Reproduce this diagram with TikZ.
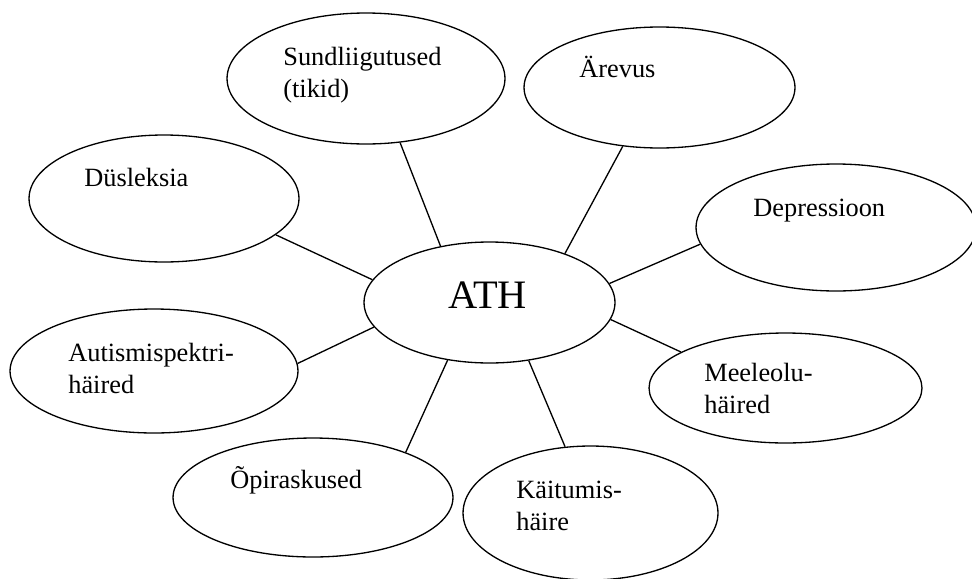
\documentclass[tikz,border=0pt]{standalone}
\usepackage{fontspec}
\setmainfont{Liberation Serif}
\usetikzlibrary{shapes.geometric,positioning}

\newcommand{\twoline}[2]{\begin{tabular}[t]{@{}l@{}}#1\\#2\end{tabular}}

\tikzset{
    bubble/.style 2 args={ellipse, draw, line width=0.75pt, inner sep=0pt,
        minimum width=#1, minimum height=#2},
    label text/.style={anchor=base west, inner sep=0pt,
        font=\fontsize{15}{18.5}\selectfont},
    spoke/.style={line width=0.75pt}
}

\begin{document}
\begin{tikzpicture}[x=0.02cm, y=-0.02cm]
        \path[fill=white, use as bounding box] (0,0) rectangle (972,578);
        % ellipses
        \node[bubble={5.02cm}{2.42cm}] (ath) at (489.5,302.5) {};
        \node[bubble={5.56cm}{2.62cm}] (sund) at (366,78.5) {};
        \node[bubble={5.42cm}{2.42cm}] (arev) at (659.5,87.5) {};
        \node[bubble={5.40cm}{2.54cm}] (dys) at (164,198.5) {};
        \node[bubble={5.60cm}{2.54cm}] (depr) at (836,227.5) {};
        \node[bubble={5.76cm}{2.48cm}] (aut) at (154,371) {};
        \node[bubble={5.46cm}{2.20cm}] (meel) at (785.5,388) {};
        \node[bubble={5.60cm}{2.38cm}] (opi) at (313,497.5) {};
        \node[bubble={5.10cm}{2.68cm}] (kait) at (590.5,513) {};
        % texts
        \node[anchor=base west, inner sep=0pt, font=\fontsize{23}{27}\selectfont] (athtext) at (448,308) {ATH};
        \node[label text] (sundtext) at (283,65) {\twoline{Sundliigutused}{(tikid)}};
        \node[label text] (arevtext) at (579,77) {Ärevus};
        \node[label text] (dystext) at (84,186) {Düsleksia};
        \node[label text] (deprtext) at (753,216) {Depressioon};
        \node[label text] (auttext) at (68,361) {\twoline{Autismispektri-}{häired}};
        \node[label text] (meeltext) at (704,381) {\twoline{Meeleolu-}{häired}};
        \node[label text] (opitext) at (230,488) {Õpiraskused};
        \node[label text] (kaittext) at (516,498) {\twoline{Käitumis-}{häire}};
        % spokes
        \draw[spoke] (sund.298.5) -- (ath.131.5);
        \draw[spoke] (dys.342.2) -- (ath.169.2);
        \draw[spoke] (arev.238.8) -- (ath.33.8);
        \draw[spoke] (depr.187.2) -- (ath.9.7);
        \draw[spoke] (aut.3.6) -- (ath.192.8);
        \draw[spoke] (opi.26.3) -- (ath.234.6);
        \draw[spoke] (meel.161.8) -- (ath.352.8);
        \draw[spoke] (kait.111.1) -- (ath.304.4);
\end{tikzpicture}
\end{document}
